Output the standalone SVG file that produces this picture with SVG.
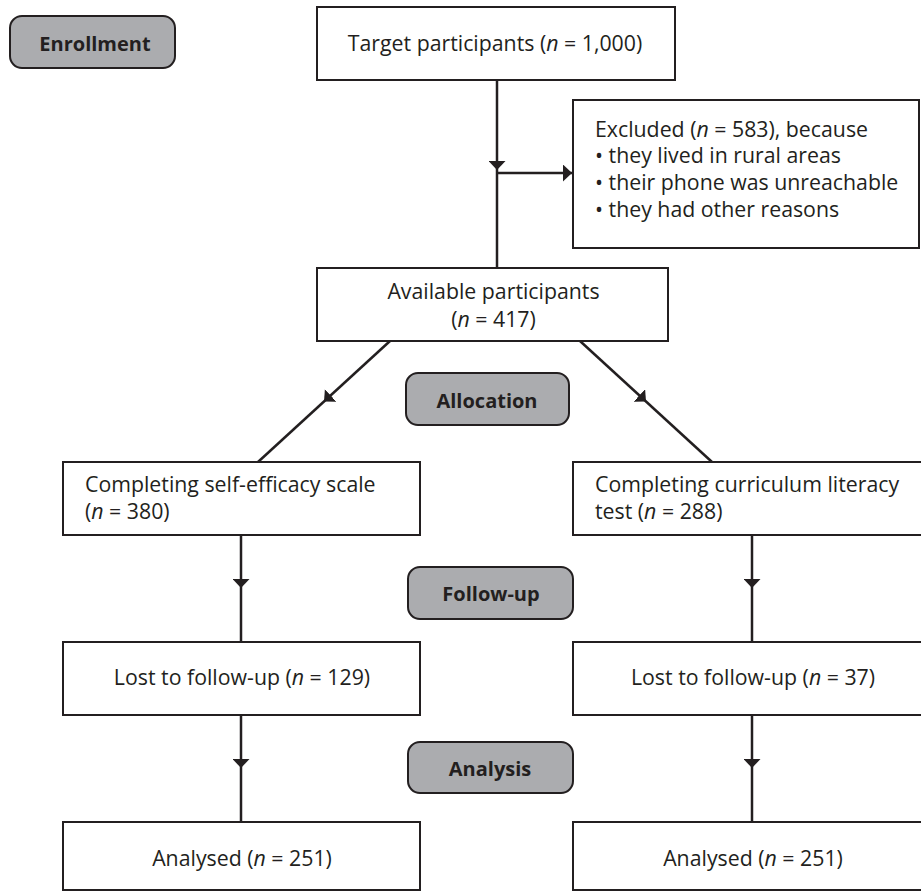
<svg xmlns="http://www.w3.org/2000/svg" width="921" height="893" viewBox="0 0 921 893">
<style>
text{font-family:"Open Sans","Liberation Sans",sans-serif;font-size:21.3px;fill:#231f20}
.i{font-style:italic}
.box{fill:#fff;stroke:#231f20;stroke-width:2}
.pill{fill:#abacaf;stroke:#231f20;stroke-width:2}
.pt{font-weight:bold;font-size:20px;text-anchor:middle}
.c{text-anchor:middle}
.ln{fill:none;stroke:#231f20;stroke-width:2.5}
</style>
<defs>
<marker id="ah" viewBox="0 0 9 17" refX="9" refY="8.5" markerWidth="9" markerHeight="17" markerUnits="userSpaceOnUse" orient="auto">
<path d="M0,0 L9,8.5 L0,17 Z" fill="#231f20"/>
</marker>
</defs>
<rect width="921" height="893" fill="#fff"/>
<g id="connectors">
<path class="ln" d="M497,80 L497,170 L497,268" marker-mid="url(#ah)"/>
<path class="ln" d="M497,173 L572,173" marker-end="url(#ah)"/>
<path class="ln" d="M390,341 L324,401.5 L258,462" marker-mid="url(#ah)"/>
<path class="ln" d="M580,341 L646,401.5 L712,462" marker-mid="url(#ah)"/>
<path class="ln" d="M241,535 L241,588 L241,642" marker-mid="url(#ah)"/>
<path class="ln" d="M752,535 L752,588 L752,642" marker-mid="url(#ah)"/>
<path class="ln" d="M241,715 L241,768 L241,822" marker-mid="url(#ah)"/>
<path class="ln" d="M752,715 L752,768 L752,822" marker-mid="url(#ah)"/>
</g>
<g id="enrollment"><rect class="pill" x="10" y="16" width="165" height="52" rx="12"/><text class="pt" x="95" y="51">Enrollment</text></g>
<g id="target"><rect class="box" x="317" y="7" width="358" height="73"/><text class="c" x="495" y="51">Target participants (<tspan class="i">n</tspan> = 1,000)</text></g>
<g id="excluded"><rect class="box" x="573" y="100" width="346" height="148"/>
<text x="595" y="136.5">Excluded (<tspan class="i">n</tspan> = 583), because<tspan x="595" dy="26.7">• they lived in rural areas</tspan><tspan x="595" dy="26.7">• their phone was unreachable</tspan><tspan x="595" dy="26.7">• they had other reasons</tspan></text></g>
<g id="available"><rect class="box" x="317" y="268" width="351" height="73"/><text class="c" x="493.5" y="299">Available participants<tspan x="493.5" dy="28">(<tspan class="i">n</tspan> = 417)</tspan></text></g>
<g id="allocation"><rect class="pill" x="406" y="373" width="163" height="52" rx="12"/><text class="pt" x="487" y="408">Allocation</text></g>
<g id="selfefficacy"><rect class="box" x="63" y="462" width="357" height="73"/><text x="85" y="491.5">Completing self-efficacy scale<tspan x="85" dy="27">(<tspan class="i">n</tspan> = 380)</tspan></text></g>
<g id="curriculum"><rect class="box" x="573" y="462" width="357" height="73"/><text x="595" y="491.5">Completing curriculum literacy<tspan x="595" dy="27">test (<tspan class="i">n</tspan> = 288)</tspan></text></g>
<g id="followup"><rect class="pill" x="408" y="567" width="165" height="52" rx="12"/><text class="pt" x="491" y="601">Follow-up</text></g>
<g id="lost1"><rect class="box" x="63" y="642" width="357" height="73"/><text class="c" x="242" y="685">Lost to follow-up (<tspan class="i">n</tspan> = 129)</text></g>
<g id="lost2"><rect class="box" x="573" y="642" width="357" height="73"/><text class="c" x="753" y="685">Lost to follow-up (<tspan class="i">n</tspan> = 37)</text></g>
<g id="analysis"><rect class="pill" x="408" y="742" width="165" height="51" rx="12"/><text class="pt" x="490" y="776">Analysis</text></g>
<g id="analysed1"><rect class="box" x="63" y="822" width="357" height="68"/><text class="c" x="242" y="866">Analysed (<tspan class="i">n</tspan> = 251)</text></g>
<g id="analysed2"><rect class="box" x="573" y="822" width="357" height="68"/><text class="c" x="753" y="866">Analysed (<tspan class="i">n</tspan> = 251)</text></g>
</svg>
